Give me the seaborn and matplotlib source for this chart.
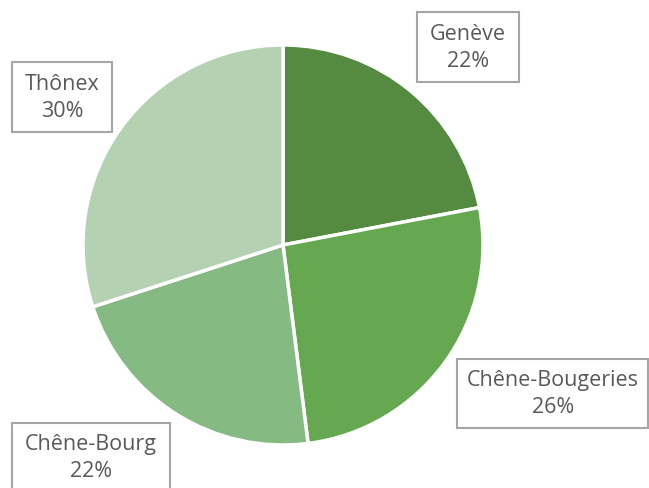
import matplotlib
matplotlib.use("Agg")
import matplotlib.pyplot as plt
import seaborn as sns
from matplotlib.patches import Rectangle

communes = ["Genève", "Chêne-Bougeries", "Chêne-Bourg", "Thônex"]
shares = [22, 26, 22, 30]
colors = ["#548B40", "#65A850", "#85BA82", "#B4D1B1"]

sns.set_theme(style="white")
plt.rcParams['font.family'] = ['Open Sans', 'DejaVu Sans']

W, H = 649, 488
fig = plt.figure(figsize=(W / 100, H / 100), dpi=100)
fig.patch.set_facecolor("white")

cx, cy, r = 283, 245, 200
ax = fig.add_axes([(cx - r) / W, (H - cy - r) / H, 2 * r / W, 2 * r / H])
ax.pie(shares, colors=colors, startangle=90, counterclock=False,
       wedgeprops=dict(edgecolor="white", linewidth=2.5))
ax.set_xlim(-1, 1)
ax.set_ylim(-1, 1)
ax.set_aspect("equal")
ax.axis("off")

# label boxes: (left, top, right, bottom) in pixels from top-left
boxes = [
    (417, 12, 519, 82),
    (457, 359, 648, 428),
    (12, 423, 170, 500),
    (12, 62, 112, 132),
]
centers = [(468, 48), (553, 394), (91, 458), (62, 98)]

for name, share, (l, t, rr, b), (tx, ty) in zip(communes, shares, boxes, centers):
    rect = Rectangle((l / W, 1 - b / H), (rr - l) / W, (b - t) / H,
                     transform=fig.transFigure, facecolor="white",
                     edgecolor="#A6A6A6", linewidth=1.5, clip_on=False)
    fig.patches.append(rect)
    fig.text(tx / W, 1 - ty / H, f"{name}\n{share}%", ha="center", va="center",
             fontsize=15.5, color="#595959", linespacing=1.35)

fig.savefig("out.png", dpi=100)
